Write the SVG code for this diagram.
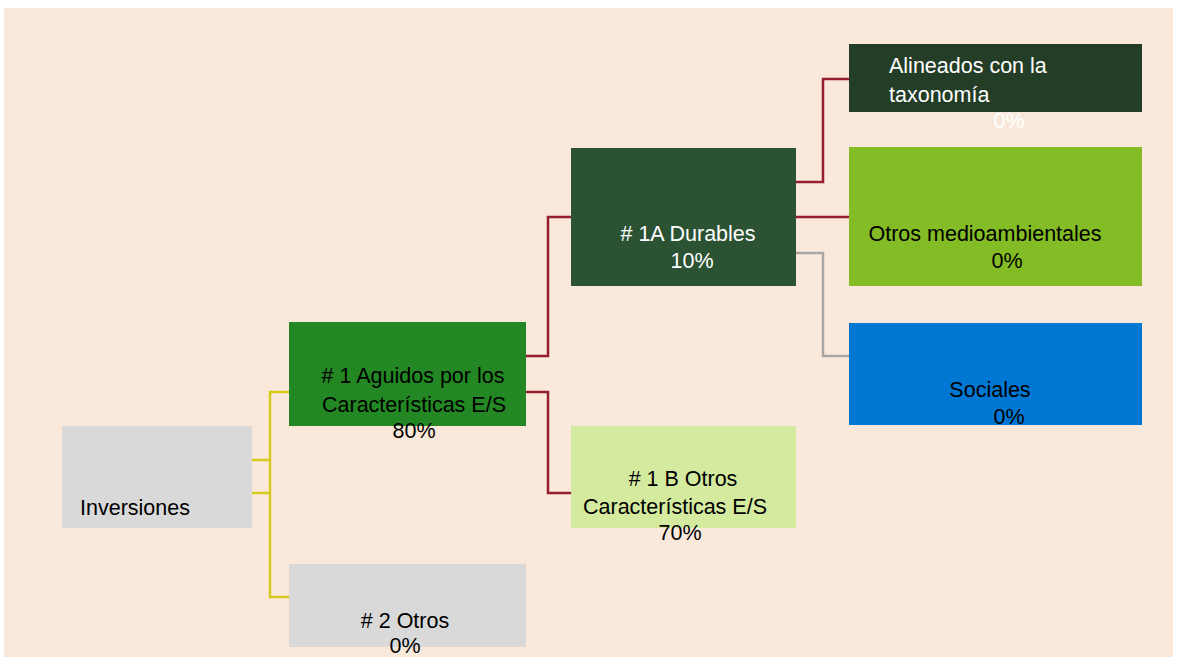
<svg xmlns="http://www.w3.org/2000/svg" width="1178" height="657" viewBox="0 0 1178 657">
  <style>
    text { font-family: "Liberation Sans", Arial, sans-serif; font-size: 21.5px; }
    .dk { fill: #000000; }
    .wh { fill: #FFFFFF; }
    .mid { text-anchor: middle; }
    .red { fill: none; stroke: #961C30; stroke-width: 2.5; }
    .yel { fill: none; stroke: #D6CB1C; stroke-width: 2.5; }
    .gry { fill: none; stroke: #A6A6A6; stroke-width: 2.5; }
  </style>
  <rect x="0" y="0" width="1178" height="657" fill="#FFFFFF"/>
  <rect x="4" y="8" width="1169" height="649" fill="#FAE9DA"/>

  <g id="connectors">
    <path class="yel" d="M289,392 H270 V597 H289 M251,460 H270 M251,493 H270"/>
    <path class="red" d="M526,356 H548 V217 H571"/>
    <path class="red" d="M526,392 H548 V493 H571"/>
    <path class="red" d="M796,182 H823 V79 H849"/>
    <path class="red" d="M796,217 H849"/>
    <path class="gry" d="M796,253 H823 V356 H849"/>
  </g>

  <g id="inversiones">
    <rect x="62" y="426" width="190" height="102" fill="#D9D9D9"/>
    <text class="dk" x="80" y="515">Inversiones</text>
  </g>

  <g id="n1-aguidos">
    <rect x="289" y="322" width="237" height="104" fill="#238823"/>
    <text class="dk mid" x="413" y="383"># 1 Aguidos por los</text>
    <text class="dk mid" x="414" y="412">Características E/S</text>
    <text class="dk mid" x="414" y="438">80%</text>
  </g>

  <g id="n2-otros">
    <rect x="289" y="564" width="237" height="83" fill="#D9D9D9"/>
    <text class="dk mid" x="405" y="628"># 2 Otros</text>
    <text class="dk mid" x="405" y="653">0%</text>
  </g>

  <g id="n1a-durables">
    <rect x="571" y="148" width="225" height="138" fill="#2C5234"/>
    <text class="wh mid" x="688" y="241"># 1A Durables</text>
    <text class="wh mid" x="692" y="268">10%</text>
  </g>

  <g id="n1b-otros">
    <rect x="571" y="426" width="225" height="102" fill="#D3EA9F"/>
    <text class="dk mid" x="683" y="486"># 1 B Otros</text>
    <text class="dk mid" x="675" y="514">Características E/S</text>
    <text class="dk mid" x="680" y="540">70%</text>
  </g>

  <g id="alineados">
    <rect x="849" y="44" width="293" height="68" fill="#233D26"/>
    <text class="wh" x="889" y="73">Alineados con la</text>
    <text class="wh" x="889" y="102">taxonomía</text>
    <text class="wh mid" x="1009" y="128">0%</text>
  </g>

  <g id="otros-medioambientales">
    <rect x="849" y="147" width="293" height="139" fill="#84BC26"/>
    <text class="dk mid" x="985" y="241">Otros medioambientales</text>
    <text class="dk mid" x="1007" y="268">0%</text>
  </g>

  <g id="sociales">
    <rect x="849" y="323" width="293" height="102" fill="#0077D3"/>
    <text class="dk mid" x="990" y="397">Sociales</text>
    <text class="dk mid" x="1009" y="424">0%</text>
  </g>
</svg>
